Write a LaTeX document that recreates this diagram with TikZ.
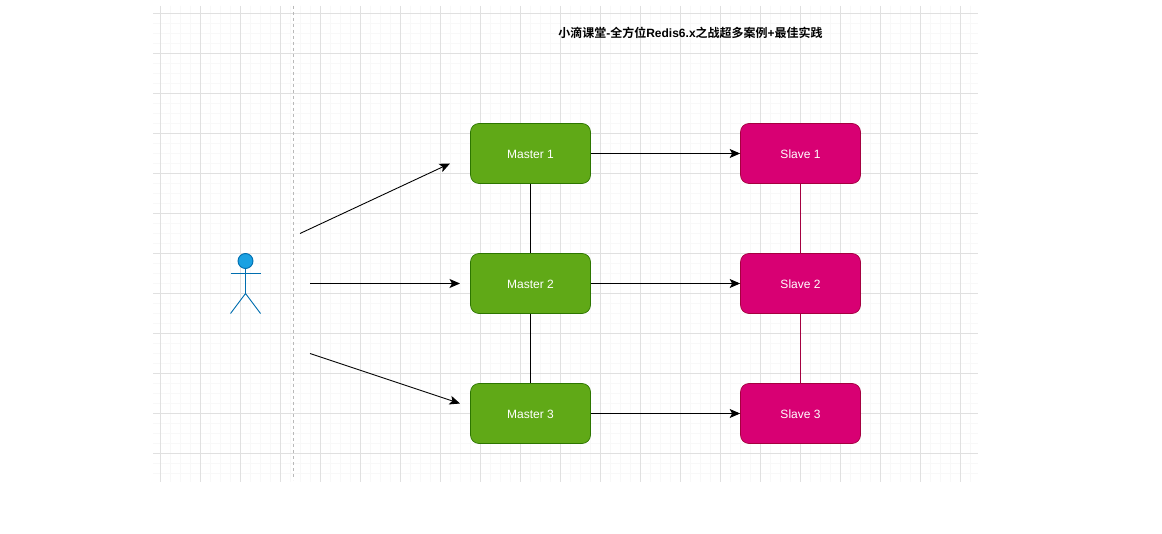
\documentclass[tikz,border=0pt]{standalone}
\usepackage{fontspec}
\setmainfont{Liberation Sans}
\newfontfamily\cjkbold[BoldFont={Noto Sans CJK SC Bold}]{Noto Sans CJK SC}
\usetikzlibrary{arrows.meta}
\definecolor{gmaj}{HTML}{E0E0E0}
\definecolor{gmin}{HTML}{F8F8F8}
\definecolor{mfill}{HTML}{60A917}
\definecolor{mline}{HTML}{2D7600}
\definecolor{sfill}{HTML}{D80073}
\definecolor{sline}{HTML}{A50040}
\definecolor{pfill}{HTML}{1BA1E2}
\definecolor{pline}{HTML}{006EAF}
\tikzset{
  nodebox/.style={rectangle,rounded corners=8.5pt,minimum width=120pt,minimum height=60pt,inner sep=0pt,line width=.7pt,text=white,font=\fontsize{12}{14}\selectfont,text height=10.2pt,text depth=0pt},
  masterbox/.style={nodebox,draw=mline,fill=mfill},
  slavebox/.style={nodebox,draw=sline,fill=sfill},
  flow/.style={line width=.9pt,draw=black,-{Stealth[length=10.5pt,width=9pt,inset=2.5pt]}},
  link/.style={line width=.9pt,draw=black},
  slink/.style={line width=.9pt,draw=sline},
  actor/.style={line width=.9pt,draw=pline}
}
\begin{document}
\begin{tikzpicture}[x=1pt,y=-1pt]
\useasboundingbox (0,0) rectangle (1162,534);
\fill[white] (0,0) rectangle (1162,534);
% minor grid
\foreach \x in {170,180,190,210,220,230,250,260,270,290,300,310,330,340,350,370,380,390,410,420,430,450,460,470,490,500,510,530,540,550,570,580,590,610,620,630,650,660,670,690,700,710,730,740,750,770,780,790,810,820,830,850,860,870,890,900,910,930,940,950,970}
  \draw[gmin,line width=.8pt] (\x,6)--(\x,482);
\foreach \y in {23,33,43,63,73,83,103,113,123,143,153,163,183,193,203,223,233,243,263,273,283,303,313,323,343,353,363,383,393,403,423,433,443,463,473}
  \draw[gmin,line width=.8pt] (153,\y)--(978,\y);
% major grid
\foreach \x in {160,200,...,960}
  \draw[gmaj,line width=.8pt] (\x,6)--(\x,482);
\foreach \y in {13,53,...,453}
  \draw[gmaj,line width=.8pt] (153,\y)--(978,\y);
% divider
\coordinate (divtop) at (293.5,6);
\coordinate (divbot) at (293.5,480);
\draw[draw=gray!55,line width=.7pt,dash pattern=on 3pt off 3pt] (divtop)--(divbot);
% title
\node[font=\fontsize{12}{14}\selectfont\bfseries] (title) at (690.5,33) {{\cjkbold 小滴课堂}-{\cjkbold 全方位}Redis6.x{\cjkbold 之战超多案例}+{\cjkbold 最佳实践}};
% boxes
\node[masterbox] (m1) at (530.5,153.5) {Master 1};
\node[masterbox] (m2) at (530.5,283.5) {Master 2};
\node[masterbox] (m3) at (530.5,413.5) {Master 3};
\node[slavebox] (s1) at (800.5,153.5) {Slave 1};
\node[slavebox] (s2) at (800.5,283.5) {Slave 2};
\node[slavebox] (s3) at (800.5,413.5) {Slave 3};
% connectors
\draw[flow] (m1)--(s1);
\draw[flow] (m2)--(s2);
\draw[flow] (m3)--(s3);
\draw[link] (m1)--(m2);
\draw[link] ([xshift=-.5pt]m2.south)--([xshift=-.5pt]m3.north);
\draw[slink] (s1)--(s2);
\draw[slink] ([xshift=-.5pt]s2.south)--([xshift=-.5pt]s3.north);
% free arrows
\coordinate (a1s) at (300,233.5); \coordinate (a1e) at (450,163.5);
\coordinate (a2s) at (310,283.5); \coordinate (a2e) at (460,283.5);
\coordinate (a3s) at (310,353.5); \coordinate (a3e) at (460,403.5);
\draw[flow] (a1s)--(a1e);
\draw[flow] (a2s)--(a2e);
\draw[flow] (a3s)--(a3e);
% actor
\draw[actor] (245.5,268.5)--(245.5,293.5);
\draw[actor] (230.5,273.5)--(260.5,273.5);
\draw[actor] (230.5,313.5)--(245.5,293.5)--(260.5,313.5);
\draw[actor,fill=pfill] (245.5,261) circle (7.5);
\end{tikzpicture}
\end{document}
